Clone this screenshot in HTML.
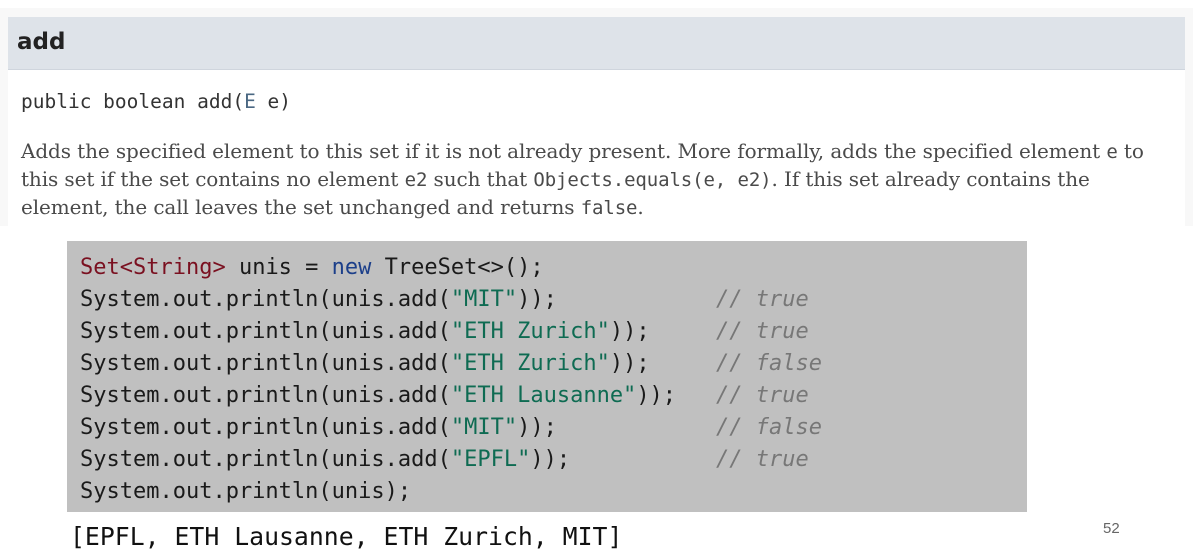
<!DOCTYPE html>
<html><head><style>
body{margin:0;width:1193px;height:556px;background:#fff;position:relative;overflow:hidden}
.a{position:absolute;white-space:pre}
.m{font-family:"DejaVu Sans Mono","Liberation Mono",monospace}
.c{font-family:"DejaVu Sans Mono","Liberation Mono",monospace;font-size:22px;color:#1a1a1a}
.s{color:#0e6b52}.k{color:#7a1020}.n{color:#1c3f8a}
.cm{font-style:italic;color:#777}
.p .m{font-size:19px}
</style></head><body>
<div class="a" style="left:0;top:8px;width:1193px;height:218px;background:#f8f8f8"></div>
<div class="a" style="left:8px;top:17px;width:1177px;height:209px;background:#fff"></div>
<div class="a" style="left:8px;top:17px;width:1177px;height:52px;background:#dee3e9;border-bottom:1px solid #cfd5dd"></div>
<div class="a" style="left:17px;top:29px;font:bold 23px 'DejaVu Sans','Liberation Sans',sans-serif;color:#222">add</div>
<div class="a m" style="left:21px;top:90px;font-size:19.5px;color:#333">public boolean add(<span style="color:#4a6782">E</span> e)</div>
<div class="a p" style="left:21px;top:138px;font:20px/27px 'DejaVu Serif','Liberation Serif',serif;color:#4a4a4a;letter-spacing:-0.1px">Adds the specified element to this set if it is not already present. More formally, adds the specified element <span class="m">e</span> to
this set if the set contains no element <span class="m">e2</span> such that <span class="m">Objects.equals(e, e2)</span>. If this set already contains the
element, the call leaves the set unchanged and returns <span class="m">false</span>.</div>
<div class="a" style="left:67px;top:241px;width:960px;height:271px;background:#c0c0c0"></div>
<div class="a c" style="left:80px;top:252px;line-height:32px"><span class="k">Set&lt;String&gt;</span> unis = <span class="n">new</span> TreeSet&lt;&gt;();
System.out.println(unis.add(<span class="s">"MIT"</span>));
System.out.println(unis.add(<span class="s">"ETH Zurich"</span>));
System.out.println(unis.add(<span class="s">"ETH Zurich"</span>));
System.out.println(unis.add(<span class="s">"ETH Lausanne"</span>));
System.out.println(unis.add(<span class="s">"MIT"</span>));
System.out.println(unis.add(<span class="s">"EPFL"</span>));
System.out.println(unis);</div>
<div class="a c cm" style="left:716px;top:284px;line-height:32px">// true
// true
// false
// true
// false
// true</div>
<div class="a m" style="left:70px;top:522px;font-size:24.8px;color:#111">[EPFL, ETH Lausanne, ETH Zurich, MIT]</div>
<div class="a" style="left:1103px;top:520px;font:15px 'Liberation Sans',sans-serif;color:#666">52</div>
</body></html>
